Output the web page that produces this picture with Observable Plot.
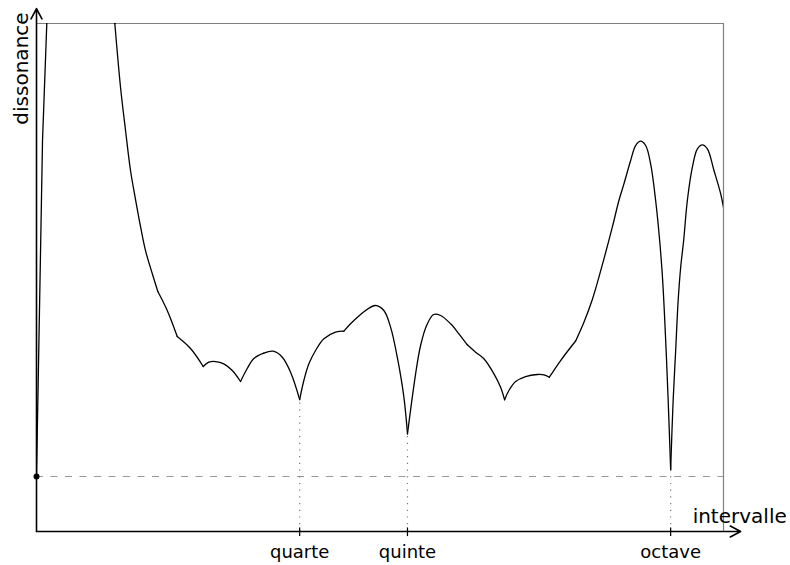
<!DOCTYPE html>
<html><head><meta charset="utf-8">
<script src="https://cdn.jsdelivr.net/npm/d3@7"></script>
<script src="https://cdn.jsdelivr.net/npm/@observablehq/plot@0.6"></script>
<style>html,body{margin:0;padding:0;background:#fff} svg{display:block}</style>
</head><body><div id="chart"></div>
<script>
// Interval in cents (x) and dissonance (arbitrary units, y)
const cents = [0, 11.4, 19.5, 83, 148.2, 159.0, 168.5, 177.9, 187.4, 196.9, 206.3, 219.0, 229.6, 247.4, 266.3, 291.5, 315.5, 326.1, 338.8, 354.5, 370.4, 386.1, 398.8, 411.3, 430.2, 448.0, 465.1, 480.8, 498, 505.9, 515.4, 528.1, 543.8, 565.9, 581.6, 594.3, 613.2, 622.7, 641.6, 657.3, 670.0, 682.7, 695.2, 702, 717.4, 726.8, 738.2, 751.4, 764.7, 783.6, 799.3, 815.2, 830.9, 846.6, 865.6, 878.2, 885.8, 893.9, 906.6, 925.5, 947.7, 960.2, 970.4, 991.8, 1020.2, 1035.9, 1051.8, 1073.8, 1089.6, 1102.1, 1111.6, 1124.3, 1133.7, 1143.2, 1152.7, 1162.1, 1171.6, 1179.2, 1184.9, 1190.6, 1195.3, 1200, 1204.7, 1209.5, 1214.2, 1219.0, 1224.6, 1231.6, 1241.1, 1250.6, 1260.0, 1269.5, 1282.0, 1294.7, 1300];
const dissonance = [1.083, 7.70, 10.0, 25, 10.0, 8.746, 7.894, 7.106, 6.535, 6.0, 5.528, 5.079, 4.724, 4.35, 3.839, 3.602, 3.248, 3.333, 3.346, 3.301, 3.169, 2.953, 3.209, 3.406, 3.510, 3.549, 3.431, 3.136, 2.598, 2.972, 3.301, 3.563, 3.793, 3.923, 3.943, 4.089, 4.272, 4.350, 4.449, 4.350, 4.022, 3.431, 2.644, 1.923, 3.104, 3.661, 4.055, 4.272, 4.252, 4.089, 3.892, 3.675, 3.530, 3.400, 3.104, 2.841, 2.593, 2.776, 2.953, 3.051, 3.091, 3.085, 3.037, 3.366, 3.750, 4.120, 4.567, 5.368, 5.990, 6.516, 6.844, 7.303, 7.598, 7.683, 7.598, 7.238, 6.516, 5.728, 4.941, 3.760, 2.579, 1.220, 2.579, 3.563, 4.547, 5.203, 5.728, 6.516, 7.171, 7.533, 7.612, 7.533, 7.106, 6.648, 6.378];
// intervals where the curve has a sharp corner (cusp)
const cuspCents = [148.2, 229.6, 266.3, 315.5, 386.1, 430.2, 498, 581.6, 622.7, 702, 815.2, 885.8, 970.4, 1020.2, 1200];

const intervalNames = ["quarte", "quinte", "octave"];
const intervalCents = [498, 702, 1200];

const xMax = 1300, yMax = 10;
const baseline = dissonance[0];
const marks = intervalNames.map((name, i) => ({
  name, c: intervalCents[i], d: dissonance[cents.indexOf(intervalCents[i])]
}));

// steep opening part (linear), then smooth arcs between cusps
const head = [], arcs = [];
cents.forEach((c, i) => {
  const d = dissonance[i];
  if (c <= cuspCents[0]) head.push({c, d});
  if (c >= cuspCents[0]) {
    let seg = cuspCents.filter(k => k <= c).length;
    arcs.push({c, d, seg});
    if (cuspCents.includes(c) && c < cents[cents.length - 1]) arcs.push({c, d, seg: seg - 1});
  }
});
arcs.sort((a, b) => a.seg - b.seg || a.c - b.c);

const font = "DejaVu Sans, sans-serif";

const chart = Plot.plot({
  width: 790, height: 565,
  marginLeft: 36, marginRight: 67, marginTop: 23, marginBottom: 34,
  style: {fontFamily: font, background: "#fff", overflow: "visible"},
  x: {domain: [0, xMax], axis: null},
  y: {domain: [0, yMax], axis: null},
  marks: [
    Plot.ruleY([yMax], {x1: 0, x2: xMax, stroke: "#808080", strokeWidth: 1.2}),
    Plot.ruleX([xMax], {y1: 0, y2: yMax, stroke: "#808080", strokeWidth: 1.2}),
    Plot.ruleY([baseline], {x1: 0, x2: xMax, stroke: "#999", strokeWidth: 1.2, strokeDasharray: "7,7.5"}),
    Plot.ruleX(marks, {x: "c", y1: 0, y2: "d", stroke: "#777", strokeWidth: 1.2, strokeDasharray: "1.2,5.5"}),
    Plot.line(head, {x: "c", y: "d", stroke: "#000", strokeWidth: 1.3, clip: true, curve: "linear"}),
    Plot.line(arcs, {x: "c", y: "d", z: "seg", stroke: "#000", strokeWidth: 1.3, clip: true, curve: "catmull-rom", strokeLinejoin: "round", strokeLinecap: "round"}),
    Plot.arrow([0], {x1: 0, y1: 0, x2: xMax * 1.025, y2: 0, stroke: "#000", strokeWidth: 1.6, headLength: 11, headAngle: 55, inset: 0}),
    Plot.arrow([0], {x1: 0, y1: 0, x2: 0, y2: yMax * 1.0295, stroke: "#000", strokeWidth: 1.6, headLength: 11, headAngle: 55, inset: 0}),
    Plot.ruleX(marks, {x: "c", y1: 0.07, y2: -0.1, stroke: "#000", strokeWidth: 1.2}),
    Plot.dot([baseline], {x: 0, y: d => d, r: 3, fill: "#000", stroke: null}),
    Plot.text(marks, {x: "c", y: 0, text: "name", lineAnchor: "top", dy: 14, fontSize: 18, fill: "#000"}),
    Plot.text(["intervalle"], {x: 1241.6, y: 0.303, text: d => d, textAnchor: "start", fontSize: 20, fill: "#000"}),
    Plot.text(["dissonance"], {x: -29.1, y: 9.114, text: d => d, rotate: -90, fontSize: 20, fill: "#000"})
  ]
});
document.getElementById("chart").appendChild(chart);
</script>
</body></html>
